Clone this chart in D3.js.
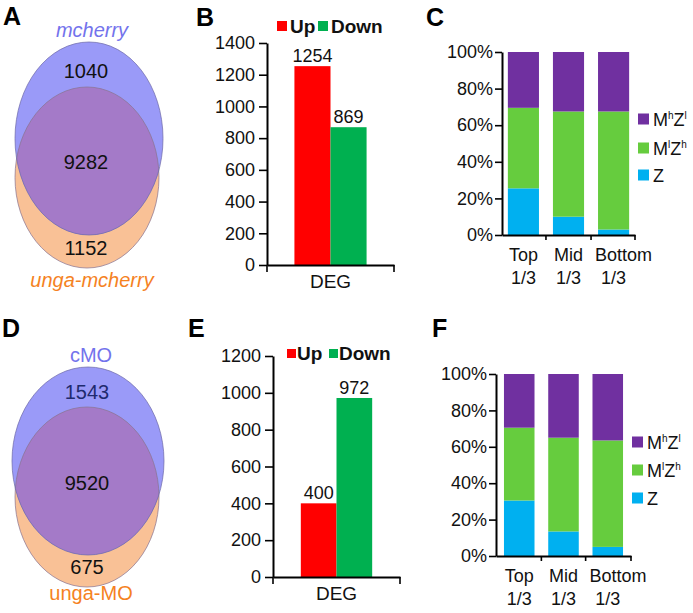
<!DOCTYPE html>
<html><head><meta charset="utf-8">
<script src="https://cdn.jsdelivr.net/npm/d3@7"></script>
<style>
html,body{margin:0;padding:0;background:#fff;}
svg{display:block;font-family:"Liberation Sans",Arial,sans-serif;}
</style></head>
<body>
<svg id="chart" width="693" height="613"></svg>
<script>
// ---------- data ----------
const panelLetters = ["A","B","C","D","E","F"];
const vennNamesA = ["mcherry","unga-mcherry"];
const vennCountsA = [1040, 9282, 1152];
const vennNamesD = ["cMO","unga-MO"];
const vennCountsD = [1543, 9520, 675];

const degCategories = ["DEG"];
const degSeries = ["Up","Down"];
const degValuesB = [1254, 869];
const degValuesE = [400, 972];
const degTicksB = [0,200,400,600,800,1000,1200,1400];
const degTicksE = [0,200,400,600,800,1000,1200];

const thirdCategories = ["Top 1/3","Mid 1/3","Bottom 1/3"];
const classKeys = ["Z","MlZh","MhZl"];
const zC    = [25.5, 10.0, 3.0];
const mlzhC = [44.0, 57.5, 64.5];
const mhzlC = [30.5, 32.5, 32.5];
const zF    = [30.5, 13.5, 5.0];
const mlzhF = [40.0, 51.5, 58.5];
const mhzlF = [29.5, 35.0, 36.5];
const pctTicks = [0,20,40,60,80,100];

// ---------- styles ----------
const FONT = '"Liberation Sans",Arial,sans-serif';
const seriesColor = {Up:"#ff0000", Down:"#00b050"};
const classColor = {Z:"#00b0f0", MlZh:"#66cc3e", MhZl:"#7030a0"};

const svg = d3.select("#chart");

// panel letters
const letterPos = [[3,25],[196,26],[426,26],[2,337],[188,337],[432,337]];
svg.selectAll("text.letter").data(panelLetters).join("text")
  .attr("class","letter")
  .attr("x",(d,i)=>letterPos[i][0]).attr("y",(d,i)=>letterPos[i][1])
  .attr("font-size",25).attr("font-weight","bold").attr("fill","#000").text(d=>d);

// ---------- Venn ----------
function venn(id, names, counts, geo, italic, topNumColor) {
  const g = svg.append("g");
  const defs = svg.append("defs");
  defs.append("clipPath").attr("id","clip"+id)
    .append("ellipse").attr("cx",geo.b.cx).attr("cy",geo.b.cy).attr("rx",geo.b.rx).attr("ry",geo.b.ry);
  g.append("ellipse").attr("cx",geo.o.cx).attr("cy",geo.o.cy).attr("rx",geo.o.rx).attr("ry",geo.o.ry)
    .attr("fill","#f9c196");
  g.append("ellipse").attr("cx",geo.b.cx).attr("cy",geo.b.cy).attr("rx",geo.b.rx).attr("ry",geo.b.ry)
    .attr("fill","#9a9af8");
  g.append("ellipse").attr("cx",geo.o.cx).attr("cy",geo.o.cy).attr("rx",geo.o.rx).attr("ry",geo.o.ry)
    .attr("clip-path","url(#clip"+id+")").attr("fill","#a47ac8");
  g.append("ellipse").attr("cx",geo.o.cx).attr("cy",geo.o.cy).attr("rx",geo.o.rx).attr("ry",geo.o.ry)
    .attr("fill","none").attr("stroke","#8a7390").attr("stroke-width",0.9).attr("stroke-opacity",0.8);
  g.append("ellipse").attr("cx",geo.b.cx).attr("cy",geo.b.cy).attr("rx",geo.b.rx).attr("ry",geo.b.ry)
    .attr("fill","none").attr("stroke","#6e6aa8").attr("stroke-width",0.9).attr("stroke-opacity",0.8);
  // names
  g.append("text").attr("x",geo.nameX).attr("y",geo.nameY[0]).attr("text-anchor","middle")
    .attr("font-size",20).attr("font-style",italic?"italic":"normal").attr("fill","#7373ec").text(names[0]);
  g.append("text").attr("x",geo.nameX).attr("y",geo.nameY[1]).attr("text-anchor","middle")
    .attr("font-size",20).attr("font-style",italic?"italic":"normal").attr("fill","#f5821f").text(names[1]);
  g.selectAll("text.num").data(counts).join("text").attr("class","num")
    .attr("x",geo.numX).attr("y",(d,i)=>geo.numY[i]).attr("text-anchor","middle")
    .attr("font-size",20).attr("fill",(d,i)=>i===0?topNumColor:"#111").text(d=>d);
}
venn("A", vennNamesA, vennCountsA, {
  b:{cx:89,cy:138.5,rx:74,ry:96.5}, o:{cx:87,cy:177.5,rx:72,ry:90.5},
  nameX:92, nameY:[37,287], numX:86, numY:[78,169,255]}, true, "#111");
venn("D", vennNamesD, vennCountsD, {
  b:{cx:88,cy:461,rx:76,ry:94}, o:{cx:87,cy:497,rx:72,ry:90},
  nameX:91, nameY:[362,600], numX:87, numY:[399,490,574]}, false, "#1f2a6e");

// ---------- DEG bar charts ----------
function degChart(values, ticks, yDomainMax, box, legend) {
  const g = svg.append("g").attr("font-family",FONT);
  const x0 = d3.scaleBand().domain(degCategories).range([box.x0,box.x1]).paddingInner(0).paddingOuter(box.po);
  const x1 = d3.scaleBand().domain(degSeries).range([0,x0.bandwidth()]).padding(0);
  const y = d3.scaleLinear().domain([0,yDomainMax]).range([box.y0,box.y1]);
  const data = degSeries.map((s,i)=>({s, v:values[i]}));
  const bars = g.selectAll("g.cat").data(degCategories).join("g").attr("transform",d=>`translate(${x0(d)},0)`);
  bars.selectAll("rect").data(data).join("rect")
    .attr("x",d=>x1(d.s)).attr("width",x1.bandwidth())
    .attr("y",d=>y(d.v)).attr("height",d=>y(0)-y(d.v)).attr("fill",d=>seriesColor[d.s]);
  bars.selectAll("text.val").data(data).join("text").attr("class","val")
    .attr("x",d=>x1(d.s)+x1.bandwidth()/2).attr("y",d=>y(d.v)-4).attr("text-anchor","middle")
    .attr("font-size",18).attr("fill","#111").text(d=>d.v);
  // y axis
  const ya = g.append("g").attr("transform",`translate(${box.x0},0)`)
    .call(d3.axisLeft(y).tickValues(ticks).tickFormat(d3.format("d")).tickSize(8).tickPadding(4).tickSizeOuter(0));
  ya.select(".domain").attr("stroke","#000").attr("stroke-width",2);
  ya.selectAll(".tick line").attr("stroke","#000").attr("stroke-width",1.6);
  ya.selectAll(".tick text").attr("font-size",18).attr("font-family",FONT).attr("fill","#111");
  // x axis
  const xa = g.append("g").attr("transform",`translate(0,${box.y0})`)
    .call(d3.axisBottom(x0).tickSize(0).tickPadding(10).tickSizeOuter(0));
  xa.select(".domain").attr("stroke","#000").attr("stroke-width",2);
  xa.selectAll(".tick text").attr("font-size",19).attr("font-family",FONT).attr("fill","#111");
  // end ticks
  g.selectAll("line.endtick").data(x0.range()).join("line").attr("class","endtick")
    .attr("x1",d=>d).attr("x2",d=>d).attr("y1",box.y0).attr("y2",box.y0+7)
    .attr("stroke","#000").attr("stroke-width",1.6);
  // legend
  const lg = g.append("g");
  degSeries.forEach((s,i)=>{
    lg.append("rect").attr("x",legend.sq[i]).attr("y",legend.y-legend.s+1).attr("width",legend.s).attr("height",legend.s)
      .attr("fill",seriesColor[s]);
    lg.append("text").attr("x",legend.tx[i]).attr("y",legend.y+3).attr("font-size",19).attr("font-weight","bold")
      .attr("fill","#111").text(s);
  });
}
degChart(degValuesB, degTicksB, 1400, {x0:267,x1:394,po:0.38,y0:265,y1:43},
  {sq:[277,318], tx:[290,331], y:30, s:10});
degChart(degValuesE, degTicksE, 1200, {x0:273,x1:400,po:0.39,y0:577,y1:356},
  {sq:[287,329], tx:[297,339], y:357, s:9});

// ---------- stacked percentage charts ----------
function stackChart(z, mlzh, mhzl, box, legendYs) {
  const g = svg.append("g").attr("font-family",FONT);
  const rows = thirdCategories.map((c,i)=>({cat:c, Z:z[i], MlZh:mlzh[i], MhZl:mhzl[i]}));
  const stack = d3.stack().keys(classKeys)(rows);
  const x = d3.scaleBand().domain(thirdCategories).range([box.x0,box.x1]).paddingInner(box.pi).paddingOuter(box.po);
  const y = d3.scaleLinear().domain([0,100]).range([box.y0,box.y1]);
  g.selectAll("g.layer").data(stack).join("g").attr("class","layer").attr("fill",d=>classColor[d.key])
    .selectAll("rect").data(d=>d).join("rect")
    .attr("x",d=>x(d.data.cat)).attr("width",x.bandwidth())
    .attr("y",d=>y(d[1])).attr("height",d=>y(d[0])-y(d[1]));
  const ya = g.append("g").attr("transform",`translate(${box.x0},0)`)
    .call(d3.axisLeft(y).tickValues(pctTicks).tickFormat(d=>d+"%").tickSize(7).tickPadding(2).tickSizeOuter(0));
  ya.select(".domain").attr("stroke","#000").attr("stroke-width",2);
  ya.selectAll(".tick line").attr("stroke","#000").attr("stroke-width",1.6);
  ya.selectAll(".tick text").attr("font-size",18).attr("font-family",FONT).attr("fill","#111");
  const xa = g.append("g").attr("transform",`translate(0,${box.y0})`)
    .call(d3.axisBottom(x).tickSize(0).tickSizeOuter(0).tickFormat(""));
  xa.select(".domain").attr("stroke","#000").attr("stroke-width",2);
  // boundary ticks
  const bounds = thirdCategories.map(c=>x(c)-x.step()*x.paddingInner()/2).slice(1).concat([box.x1]);
  g.selectAll("line.bt").data(bounds).join("line").attr("class","bt")
    .attr("x1",d=>d).attr("x2",d=>d).attr("y1",box.y0).attr("y2",box.y0+5)
    .attr("stroke","#000").attr("stroke-width",1.6);
  // category labels (two lines); lines wider than the bar start near the bar's left edge
  const lab = g.selectAll("text.cat").data(thirdCategories).join("text").attr("class","cat")
    .attr("font-size",18).attr("fill","#111");
  lab.each(function(d){
    const parts = d.split(" ");
    const t = d3.select(this);
    const cx = x(d)+x.bandwidth()/2;
    parts.forEach((p,k)=>{
      const ts = t.append("tspan").attr("y",box.y0+26+k*23).text(p);
      const w = ts.node().getComputedTextLength();
      const left = Math.max(cx - w/2, x(d) - 3);
      ts.attr("x", left);
    });
  });
  // legend (top to bottom: MhZl, MlZh, Z)
  const legOrder = ["MhZl","MlZh","Z"];
  const legText = {MhZl:[["M",0],["h",1],["Z",0],["l",1]], MlZh:[["M",0],["l",1],["Z",0],["h",1]], Z:[["Z",0]]};
  legOrder.forEach((k,i)=>{
    g.append("rect").attr("x",box.lx).attr("y",legendYs[i]-5.5).attr("width",11).attr("height",11).attr("fill",classColor[k]);
    const t = g.append("text").attr("x",box.lx+15).attr("y",legendYs[i]+6.5).attr("font-size",18).attr("fill","#111");
    legText[k].forEach(([s,sup])=>{
      const ts = t.append("tspan").text(s);
      if (sup) ts.attr("font-size",10).attr("dy",-7);
      else ts.attr("dy", t.selectAll("tspan").size()>1 ? 7 : 0);
    });
  });
}
stackChart(zC, mlzhC, mhzlC, {x0:502,x1:635,pi:0.31,po:0.13,y0:235,y1:52,lx:638}, [119,148,175]);
stackChart(zF, mlzhF, mhzlF, {x0:496,x1:631,pi:0.31,po:0.18,y0:556,y1:374,lx:632}, [442,470,498]);
</script>
</body></html>
